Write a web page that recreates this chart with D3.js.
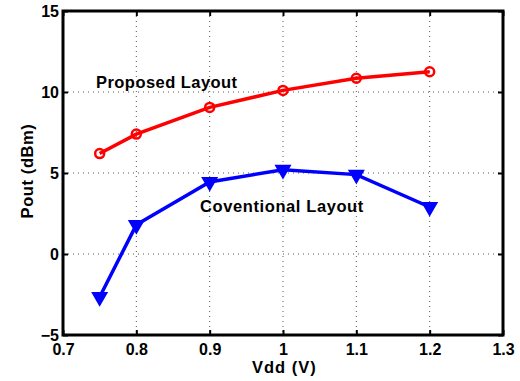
<!DOCTYPE html>
<html>
<head>
<meta charset="utf-8">
<script src="https://cdn.jsdelivr.net/npm/d3@7"></script>
<style>
  body { margin: 0; background: #fff; }
  text { font-family: "Liberation Sans", Arial, sans-serif; font-weight: bold; }
</style>
</head>
<body>
<svg id="chart" width="520" height="381"></svg>
<script>
const vdd = [0.75, 0.8, 0.9, 1.0, 1.1, 1.2];
const proposed = [6.2, 7.4, 9.05, 10.1, 10.85, 11.25];
const conventional = [-2.65, 1.8, 4.45, 5.2, 4.9, 2.9];
const xTicks = [0.7, 0.8, 0.9, 1, 1.1, 1.2, 1.3];
const yTicks = [-5, 0, 5, 10, 15];

const svg = d3.select('#chart');
const margin = { left: 63, top: 11, right: 17, bottom: 46 };
const width = 520 - margin.left - margin.right;
const height = 381 - margin.top - margin.bottom;

const x = d3.scaleLinear().domain([0.7, 1.3]).range([0, width]);
const y = d3.scaleLinear().domain([-5, 15]).range([height, 0]);

const g = svg.append('g').attr('transform', `translate(${margin.left},${margin.top})`);

// dotted grid
g.selectAll('.gx').data(xTicks.slice(1, -1)).enter().append('line')
    .attr('x1', (d) => x(d)).attr('x2', (d) => x(d))
    .attr('y1', 0).attr('y2', height)
    .attr('stroke', '#555').attr('stroke-width', 1).attr('stroke-dasharray', '1,4');
g.selectAll('.gy').data(yTicks.slice(1, -1)).enter().append('line')
    .attr('y1', (d) => y(d)).attr('y2', (d) => y(d))
    .attr('x1', 0).attr('x2', width)
    .attr('stroke', '#555').attr('stroke-width', 1).attr('stroke-dasharray', '1,4');

// axes with inward ticks
const tickLen = 5;
const xAxis = d3.axisBottom(x).tickValues(xTicks).tickSize(-tickLen).tickPadding(9)
    .tickFormat((d) => String(d));
const yAxis = d3.axisLeft(y).tickValues(yTicks).tickSize(-tickLen).tickPadding(4)
    .tickFormat((d) => (d < 0 ? '\u2212' + Math.abs(d) : String(d)));

const gx = g.append('g').attr('transform', `translate(0,${height})`).call(xAxis);
const gy = g.append('g').call(yAxis);
g.append('g').call(d3.axisTop(x).tickValues(xTicks).tickSize(-tickLen).tickFormat(''));
g.append('g').attr('transform', `translate(${width},0)`)
    .call(d3.axisRight(y).tickValues(yTicks).tickSize(-tickLen).tickFormat(''));

g.selectAll('.domain').remove();
g.selectAll('.tick line').attr('stroke', '#000').attr('stroke-width', 2);
[gx, gy].forEach((a) => a.selectAll('text').attr('font-size', 16).attr('fill', '#000'));

g.append('rect').attr('width', width).attr('height', height)
    .attr('fill', 'none').attr('stroke', '#000').attr('stroke-width', 3);

// series
const line = d3.line().x((d) => x(d[0])).y((d) => y(d[1]));
const redPts = vdd.map((v, i) => [v, proposed[i]]);
const bluePts = vdd.map((v, i) => [v, conventional[i]]);

g.append('path').datum(redPts).attr('d', line)
    .attr('fill', 'none').attr('stroke', '#ff0000').attr('stroke-width', 3.5);
g.selectAll('.red').data(redPts).enter().append('circle')
    .attr('cx', (d) => x(d[0])).attr('cy', (d) => y(d[1])).attr('r', 4.5)
    .attr('fill', 'none').attr('stroke', '#ff0000').attr('stroke-width', 2.5);

g.append('path').datum(bluePts).attr('d', line)
    .attr('fill', 'none').attr('stroke', '#0000ff').attr('stroke-width', 3.5);
const tri = d3.symbol().type(d3.symbolTriangle).size(90);
g.selectAll('.blue').data(bluePts).enter().append('path')
    .attr('d', tri)
    .attr('transform', (d) => `translate(${x(d[0])},${y(d[1])}) rotate(180)`)
    .attr('fill', '#0000ff').attr('stroke', '#0000ff').attr('stroke-width', 1.5);

// annotations
g.append('text').attr('x', 33).attr('y', 77)
    .attr('font-size', 16.5).attr('letter-spacing', 0.45).text('Proposed Layout');
g.append('text').attr('x', 137).attr('y', 201)
    .attr('font-size', 16.5).attr('letter-spacing', 0.6).text('Coventional Layout');

// axis titles
svg.append('text').attr('x', 252).attr('y', 373)
    .attr('font-size', 16.5).attr('letter-spacing', 1).text('Vdd (V)');
svg.append('text').attr('transform', 'translate(33,171) rotate(-90)')
    .attr('text-anchor', 'middle').attr('font-size', 16.5).attr('letter-spacing', 0.6)
    .text('Pout (dBm)');
</script>
</body>
</html>
